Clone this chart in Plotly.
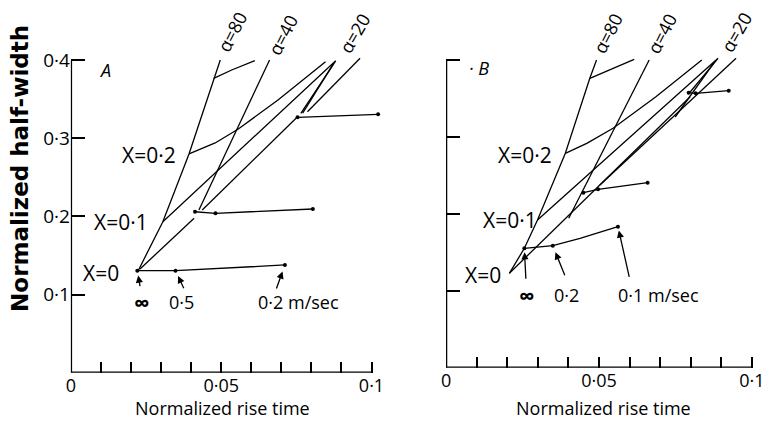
import plotly.graph_objects as go

# The page body has an 8 px default margin, so the figure is drawn 8 px smaller
# and all layout positions are measured on the 777x428 screen minus that offset.
OFF = 8
SW, SH = 777, 428
W, H = SW - OFF, SH - OFF

# ---------------- Panel A data (normalized rise time, normalized half-width) ----------------
a_alpha80_x = [0.0224, 0.0306, 0.0393, 0.0475, 0.0497]
a_alpha80_y = [0.1305, 0.1932, 0.2798, 0.3766, 0.4000]
a_x03_x = [0.0475, 0.0535, 0.0612]
a_x03_y = [0.3766, 0.3872, 0.3991]
a_x02_x = [0.0393, 0.0480, 0.0557, 0.0689, 0.0847]
a_x02_y = [0.2798, 0.2939, 0.3117, 0.3488, 0.3978]
a_x01_x = [0.0306, 0.0881, 0.0765]
a_x01_y = [0.1932, 0.3990, 0.3318]
a_x01b_x = [0.0873, 0.0771]
a_x01b_y = [0.3950, 0.3320]
a_alpha40_x = [0.0426, 0.0661]
a_alpha40_y = [0.2081, 0.4000]
a_alpha20_lo_x = [0.0230, 0.0410]
a_alpha20_lo_y = [0.1327, 0.1975]
a_alpha20_hi_x = [0.0437, 0.0749]
a_alpha20_hi_y = [0.2081, 0.3254]
a_outer_x = [0.0962, 0.0787]
a_outer_y = [0.4022, 0.3339]
# velocity curves (points at infinity, 0.5, 0.2 m/sec)
a_v0_x = [0.0221, 0.0348, 0.0712]
a_v0_y = [0.1305, 0.1305, 0.1378]
a_v1_x = [0.0413, 0.0481, 0.0805]
a_v1_y = [0.2059, 0.2039, 0.2094]
a_v2_x = [0.0754, 0.1022]
a_v2_y = [0.3267, 0.3305]

# ---------------- Panel B data ----------------
b_alpha80_x = [0.0207, 0.0256, 0.0299, 0.0390, 0.0470, 0.0492]
b_alpha80_y = [0.1227, 0.1552, 0.1920, 0.2787, 0.3762, 0.4000]
b_x03_x = [0.0470, 0.0534, 0.0615]
b_x03_y = [0.3762, 0.3870, 0.4009]
b_x02_x = [0.0390, 0.0460, 0.0546, 0.0685, 0.0836]
b_x02_y = [0.2787, 0.2917, 0.3112, 0.3519, 0.4000]
b_x01_x = [0.0299, 0.0889, 0.0798]
b_x01_y = [0.1920, 0.4022, 0.3584]
b_x01b_x = [0.0875, 0.0749]
b_x01b_y = [0.3960, 0.3259]
b_alpha40_x = [0.0401, 0.0664]
b_alpha40_y = [0.1942, 0.4000]
b_alpha20_x = [0.0207, 0.0798]
b_alpha20_y = [0.1227, 0.3523]
b_outer_x = [0.0503, 0.0948]
b_outer_y = [0.2375, 0.4022]
b_v0_x = [0.0256, 0.0349, 0.0438, 0.0562]
b_v0_y = [0.1552, 0.1586, 0.1682, 0.1833]
b_v0_pts_x = [0.0256, 0.0349, 0.0562]
b_v0_pts_y = [0.1552, 0.1586, 0.1833]
b_v1_x = [0.0449, 0.0497, 0.0659]
b_v1_y = [0.2275, 0.2319, 0.2405]
b_v2_x = [0.0793, 0.0816, 0.0924]
b_v2_y = [0.3575, 0.3567, 0.3601]

# ticks
x_ticks = [0, 0.01, 0.02, 0.03, 0.04, 0.05, 0.06, 0.07, 0.08, 0.09, 0.1]
x_tick_labels = ["0", "", "", "", "", "0·05", "", "", "", "", "0·1"]
y_ticks = [0.1, 0.2, 0.3, 0.4]
y_tick_labels_a = ["0·1", "0·2", "0·3", "0·4"]
y_tick_labels_b = ["", "", "", ""]

FONT = "Open Sans"
fig = go.Figure()

def add_line(x, y, xa, ya):
    fig.add_trace(go.Scatter(x=x, y=y, mode="lines", xaxis=xa, yaxis=ya,
                             line=dict(color="black", width=1.3),
                             showlegend=False, hoverinfo="skip"))

def add_vel(x, y, xa, ya, px=None, py=None):
    fig.add_trace(go.Scatter(x=x, y=y, mode="lines", xaxis=xa, yaxis=ya,
                             line=dict(color="black", width=1.3),
                             showlegend=False, hoverinfo="skip"))
    fig.add_trace(go.Scatter(x=px if px else x, y=py if py else y, mode="markers",
                             xaxis=xa, yaxis=ya, cliponaxis=False,
                             marker=dict(color="black", size=4),
                             showlegend=False, hoverinfo="skip"))

for xs, ys in [(a_alpha80_x, a_alpha80_y), (a_x03_x, a_x03_y), (a_x02_x, a_x02_y),
               (a_x01_x, a_x01_y), (a_x01b_x, a_x01b_y), (a_alpha40_x, a_alpha40_y),
               (a_alpha20_lo_x, a_alpha20_lo_y), (a_alpha20_hi_x, a_alpha20_hi_y),
               (a_outer_x, a_outer_y)]:
    add_line(xs, ys, "x", "y")
add_vel(a_v0_x, a_v0_y, "x", "y")
add_vel(a_v1_x, a_v1_y, "x", "y")
add_vel(a_v2_x, a_v2_y, "x", "y")

for xs, ys in [(b_alpha80_x, b_alpha80_y), (b_x03_x, b_x03_y), (b_x02_x, b_x02_y),
               (b_x01_x, b_x01_y), (b_x01b_x, b_x01b_y), (b_alpha40_x, b_alpha40_y),
               (b_alpha20_x, b_alpha20_y), (b_outer_x, b_outer_y)]:
    add_line(xs, ys, "x2", "y2")
add_vel(b_v0_x, b_v0_y, "x2", "y2", b_v0_pts_x, b_v0_pts_y)
add_vel(b_v1_x, b_v1_y, "x2", "y2")
add_vel(b_v2_x, b_v2_y, "x2", "y2")

def px(xp):
    return (xp - OFF) / W

def py(yp):
    return 1 - (yp - OFF) / H

axis_common = dict(showgrid=False, zeroline=False, showline=False, ticks="inside",
                   tickcolor="black", tickwidth=2, tickmode="array", fixedrange=True)
xfont = dict(family=FONT, size=18, color="black")
yfont = dict(family=FONT, size=19, color="black")

fig.update_layout(
    width=W, height=H, margin=dict(l=0, r=0, t=0, b=0),
    paper_bgcolor="white", plot_bgcolor="white", showlegend=False,
    xaxis=dict(domain=[px(66.7), px(66.7 + 0.105 * 3050)], range=[0, 0.105], tickfont=xfont,
               tickvals=x_ticks, ticktext=x_tick_labels, ticklen=11, anchor="y", **axis_common),
    yaxis=dict(domain=[py(372.7), py(372.7 - 0.44 * 781.75)], range=[0, 0.44], tickfont=yfont,
               tickvals=y_ticks, ticktext=y_tick_labels_a, ticklen=14, anchor="x", **axis_common),
    xaxis2=dict(domain=[px(447.3), px(447.3 + 0.102 * 3104)], range=[0, 0.102], tickfont=xfont,
                tickvals=x_ticks, ticktext=x_tick_labels, ticklen=11, anchor="y2", **axis_common),
    yaxis2=dict(domain=[py(367.7), py(367.7 - 0.44 * 769.25)], range=[0, 0.44], tickfont=yfont,
                tickvals=y_ticks, ticktext=y_tick_labels_b, ticklen=14, anchor="x2", **axis_common),
)

# axis lines
for xr, yr in [("x", "y"), ("x2", "y2")]:
    fig.add_shape(type="line", xref=xr, yref=yr, x0=0, y0=0, x1=0.1, y1=0,
                  line=dict(color="black", width=2.5))
    fig.add_shape(type="line", xref=xr, yref=yr, x0=0, y0=0, x1=0, y1=0.4,
                  line=dict(color="black", width=2.5))

def label(text, xp, yp, size=18, xanchor="center", angle=0, italic=False, bold=False, family=FONT):
    t = text
    if italic:
        t = "<i>" + t + "</i>"
    if bold:
        t = "<b>" + t + "</b>"
    fig.add_annotation(x=px(xp), y=py(yp), xref="paper", yref="paper", text=t,
                       showarrow=False, xanchor=xanchor, yanchor="middle", textangle=angle,
                       font=dict(family=family, size=size, color="black"))

# Panel A labels
label("X=0", 118, 273.3, xanchor="right", size=21)
label("X=0·1", 147, 221.7, xanchor="right", size=21)
label("X=0·2", 175, 155, xanchor="right", size=21)
label("A", 101.7, 70, size=18, italic=True)
label("α=80", 230, 31.7, size=18, angle=-63)
label("α=40", 281.7, 35, size=18, angle=-63)
label("α=20", 355, 33.3, size=18, angle=-60)
label("∞", 139, 302, size=22, bold=True)
label("0·5", 179, 302)
label("0·2 m/sec", 297.5, 302)

# Panel B labels
label("X=0", 505, 275, xanchor="right", size=21)
label("X=0·1", 541.7, 220, xanchor="right", size=21)
label("X=0·2", 556.7, 155, xanchor="right", size=21)
label("· B", 481, 68.3, size=18, italic=True)
label("α=80", 611.7, 33.3, size=18, angle=-63)
label("α=40", 666.7, 33.3, size=18, angle=-63)
label("α=20", 741.7, 31.7, size=18, angle=-60)
label("∞", 529, 295, size=22, bold=True)
label("0·2", 570, 295)
label("0·1 m/sec", 662.5, 295)

# axis titles
label("Normalized half-width", 15, 168, size=23, angle=-90, bold=True, family="DejaVu Sans")
label("Normalized rise time", 221, 408, size=18)
label("Normalized rise time", 606.7, 408, size=18)

# arrows pointing at velocity points
def arrow(x, y, xr, yr, ax, ay, standoff):
    fig.add_annotation(x=x, y=y, xref=xr, yref=yr, ax=ax, ay=ay, axref="pixel", ayref="pixel",
                       text="", showarrow=True, arrowhead=2, arrowsize=1.1, arrowwidth=1.3,
                       arrowcolor="black", standoff=standoff)

arrow(a_v0_x[0], a_v0_y[0], "x", "y", 3, 17, 5)
arrow(a_v0_x[1], a_v0_y[1], "x", "y", 9, 19, 6)
arrow(a_v0_x[2], a_v0_y[2], "x", "y", -9, 25, 7)
arrow(b_v0_pts_x[0], b_v0_pts_y[0], "x2", "y2", 1.6, 32, 4)
arrow(b_v0_pts_x[1], b_v0_pts_y[1], "x2", "y2", 12.6, 31, 7)
arrow(b_v0_pts_x[2], b_v0_pts_y[2], "x2", "y2", 11.6, 51.6, 4)

fig.write_html("out.html")
